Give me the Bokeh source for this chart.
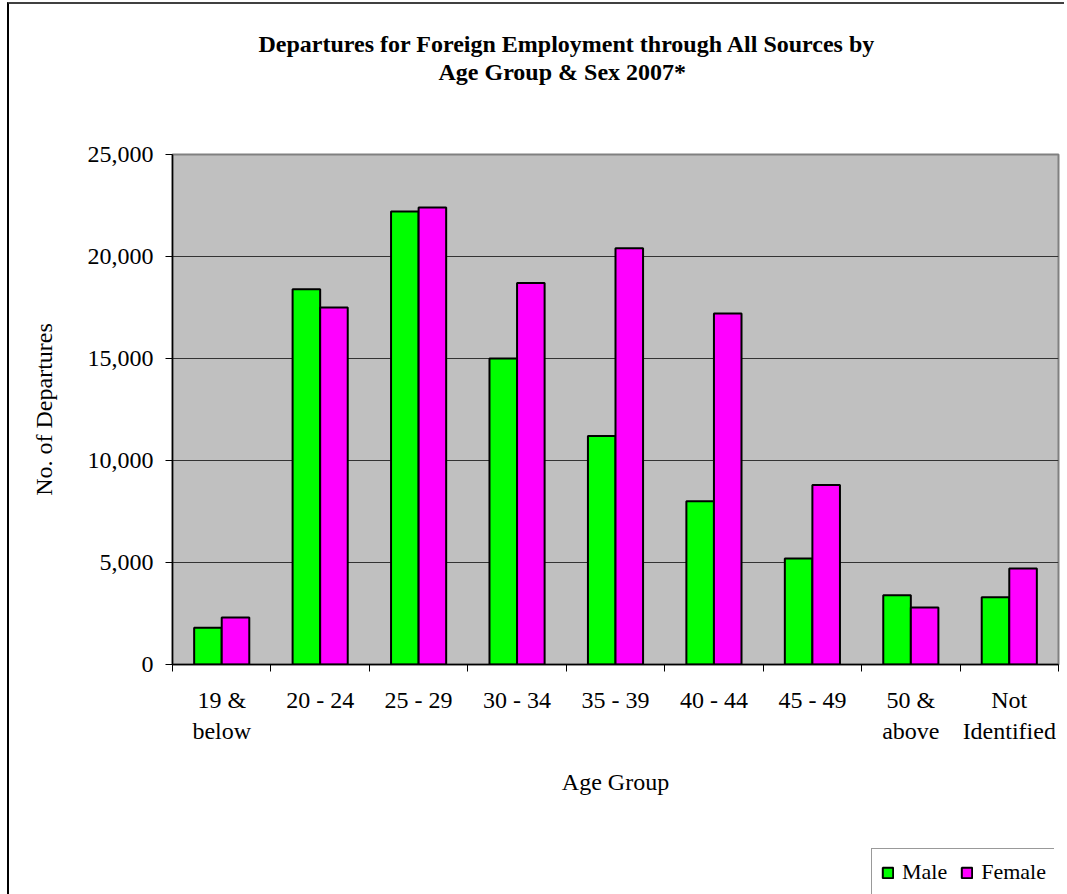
from bokeh.plotting import figure
from bokeh.layouts import column, row
from bokeh.models import (ColumnDataSource, Range1d, FixedTicker, NumeralTickFormatter,
                          Legend, LegendItem, Title, Spacer)
from bokeh.embed import file_html
from bokeh.resources import INLINE

categories = ["19 &\nbelow", "20 - 24", "25 - 29", "30 - 34", "35 - 39",
              "40 - 44", "45 - 49", "50 &\nabove", "Not\nIdentified"]
male = [1800, 18400, 22200, 15000, 11200, 8000, 5200, 3400, 3300]
female = [2300, 17500, 22400, 18700, 20400, 17200, 8800, 2800, 4700]
series_names = ["Male", "Female"]
y_ticks = [0, 5000, 10000, 15000, 20000, 25000]
title_lines = ["Departures for Foreign Employment through All Sources by",
               "Age Group & Sex 2007*"]

FONT = "Liberation Serif"
GREEN = "#00FF00"
MAGENTA = "#FF00FF"
n = len(categories)
centers = [i + 0.5 for i in range(n)]
bw = 0.28

src = ColumnDataSource(dict(
    xm=[c - bw / 2 for c in centers],
    xf=[c + bw / 2 for c in centers],
    male=male, female=female))

p = figure(frame_width=886, frame_height=510,
           x_range=Range1d(0, n), y_range=Range1d(0, 25000),
           output_backend="svg", toolbar_location=None,
           min_border_left=163, min_border_right=6,
           min_border_top=150, min_border_bottom=184,
           background_fill_color="#C0C0C0", border_fill_color="white")

p.outline_line_color = "#808080"
p.outline_line_width = 2

p.vbar(x="xm", top="male", width=bw, source=src, fill_color=GREEN,
       line_color="black", line_width=2)
p.vbar(x="xf", top="female", width=bw, source=src, fill_color=MAGENTA,
       line_color="black", line_width=2)

# y axis
p.yaxis.ticker = FixedTicker(ticks=y_ticks)
p.yaxis.formatter = NumeralTickFormatter(format="0,0")
p.yaxis.axis_label = "No. of Departures"
p.yaxis.major_tick_out = 7
p.yaxis.major_tick_in = 0
p.yaxis.minor_tick_out = 0
p.yaxis.minor_tick_in = 0
p.yaxis.major_label_standoff = 12
p.yaxis.axis_label_standoff = 28

# x axis: labels at category centres, ticks at category boundaries
p.xaxis.ticker = FixedTicker(ticks=centers, minor_ticks=list(range(n + 1)))
p.xaxis.major_label_overrides = {c: lab for c, lab in zip(centers, categories)}
p.xaxis.axis_label = "Age Group"
p.xaxis.major_tick_out = 0
p.xaxis.major_tick_in = 0
p.xaxis.minor_tick_out = 7
p.xaxis.minor_tick_in = 0
p.xaxis.major_label_standoff = 15
p.xaxis.axis_label_standoff = 22

for ax in (p.xaxis[0], p.yaxis[0]):
    ax.axis_line_color = "black"
    ax.axis_line_width = 1.5
    ax.major_tick_line_color = "black"
    ax.minor_tick_line_color = "black"
    ax.major_label_text_font = FONT
    ax.major_label_text_font_size = "24px"
    ax.major_label_text_color = "black"
    ax.axis_label_text_font = FONT
    ax.axis_label_text_font_size = "24px"
    ax.axis_label_text_font_style = "normal"
    ax.axis_label_text_color = "black"

p.xgrid.visible = False
p.ygrid.ticker = FixedTicker(ticks=y_ticks)
p.ygrid.grid_line_color = "#333333"
p.ygrid.grid_line_width = 1.2

HAS_STANDOFF = "standoff" in Title.properties()


def make_title(text, size, offset=0, bold=False):
    kw = dict(text=text, align="left", offset=offset, text_font=FONT,
              text_font_size=size, text_color="black",
              text_font_style="bold" if bold else "normal")
    if HAS_STANDOFF:
        kw["standoff"] = 0
    return Title(**kw)


# titles (first added is closest to the frame)
p.add_layout(make_title(" ", "62px"), "above")
p.add_layout(make_title(title_lines[1], "24px", offset=266, bold=True), "above")
p.add_layout(make_title(title_lines[0], "24px", offset=86, bold=True), "above")

# legend in its own small figure, placed under the chart at the right;
# its proxy bars use the same data but lie outside that figure's x range
lf = figure(width=183, height=46, x_range=Range1d(-3, -2), y_range=Range1d(0, 25000),
            output_backend="svg", toolbar_location=None,
            x_axis_location=None, y_axis_location=None,
            min_border=0, min_border_left=0, min_border_right=0,
            min_border_top=0, min_border_bottom=0,
            background_fill_color="white", border_fill_color="white")
lf.outline_line_color = None
lf.grid.visible = False
lm = lf.vbar(x="xm", top="male", width=bw, source=src, fill_color=GREEN,
             line_color="black", line_width=2)
lfem = lf.vbar(x="xf", top="female", width=bw, source=src, fill_color=MAGENTA,
               line_color="black", line_width=2)
legend = Legend(items=[LegendItem(label=series_names[0], renderers=[lm]),
                       LegendItem(label=series_names[1], renderers=[lfem])],
                orientation="horizontal", location="top_left",
                label_text_font=FONT, label_text_font_size="22px",
                label_text_color="black", label_height=28,
                glyph_width=13, glyph_height=13, label_standoff=8,
                spacing=13, padding=9, margin=0,
                border_line_color="#333333", border_line_width=1,
                background_fill_color="white", background_fill_alpha=1)
lf.add_layout(legend, "center")

layout = column(p, row(Spacer(width=862, height=46), lf))
layout.styles = {"border-left": "2px solid #000000", "border-top": "2px solid #404040",
                 "margin-left": "7px", "margin-top": "2px"}

open("out.html", "w").write(file_html(layout, INLINE))
